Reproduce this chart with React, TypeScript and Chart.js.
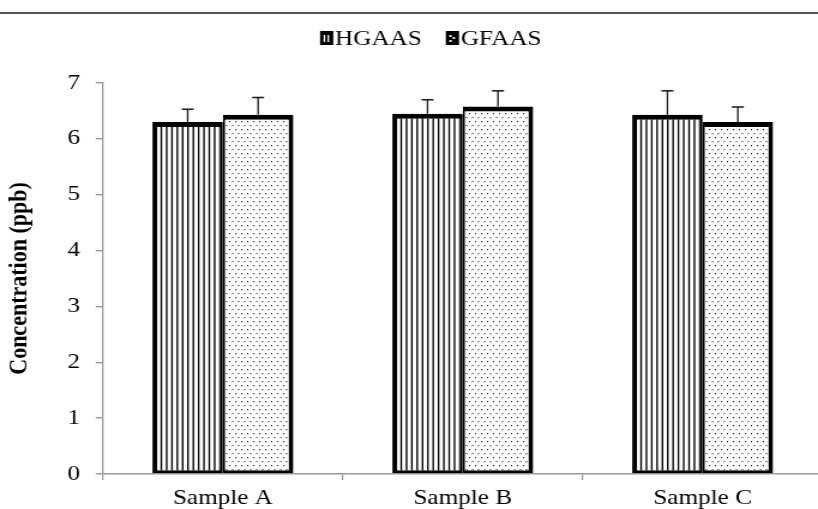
import React, { useEffect, useRef } from "react";
import { Chart, registerables } from "chart.js";

Chart.register(...registerables);

const categories = ["Sample A", "Sample B", "Sample C"];
const seriesNames = ["HGAAS", "GFAAS"];
const hgaasValues = [6.3, 6.45, 6.43];
const hgaasErrors = [0.23, 0.25, 0.43];
const gfaasValues = [6.43, 6.58, 6.3];
const gfaasErrors = [0.31, 0.28, 0.27];
const yTickMin = 0;
const yTickMax = 7;
const yTickStep = 1;
const yTitle = "Concentration (ppb)";

const FONT = "'Liberation Serif', 'Times New Roman', serif";
// the reference figure is horizontally stretched; draw narrower and stretch with CSS
const SX = 1.2;
const CANVAS_W = 687;
const CANVAS_H = 509;

function makeLinePattern(ctx: CanvasRenderingContext2D) {
  const c = document.createElement("canvas");
  c.width = 40;
  c.height = 4;
  const g = c.getContext("2d")!;
  g.fillStyle = "#fff";
  g.fillRect(0, 0, 40, 4);
  g.fillStyle = "#000";
  for (let k = 0; k < 9; k++) g.fillRect(0.5 + (k * 40) / 9, 0, 1.35, 4);
  return ctx.createPattern(c, "repeat")!;
}

function makeDotPattern(ctx: CanvasRenderingContext2D) {
  const c = document.createElement("canvas");
  c.width = 5;
  c.height = 8;
  const g = c.getContext("2d")!;
  g.fillStyle = "#fff";
  g.fillRect(0, 0, 5, 8);
  g.fillStyle = "#222";
  g.fillRect(1, 1, 1, 1.2);
  g.fillRect(3.5, 5, 1, 1.2);
  return ctx.createPattern(c, "repeat")!;
}

const errorBarPlugin = {
  id: "errorBars",
  afterDatasetsDraw(chart: any) {
    const { ctx } = chart;
    const yScale = chart.scales.y;
    const errs = [hgaasErrors, gfaasErrors];
    chart.data.datasets.forEach((ds: any, i: number) => {
      const meta = chart.getDatasetMeta(i);
      meta.data.forEach((bar: any, j: number) => {
        const top = yScale.getPixelForValue(ds.data[j] + errs[i][j]);
        ctx.save();
        ctx.strokeStyle = "#222";
        ctx.beginPath();
        ctx.lineWidth = 1.35;
        ctx.moveTo(bar.x, bar.y);
        ctx.lineTo(bar.x, top);
        ctx.stroke();
        ctx.beginPath();
        ctx.lineWidth = 1.6;
        ctx.moveTo(bar.x - 5, top);
        ctx.lineTo(bar.x + 5, top);
        ctx.stroke();
        ctx.restore();
      });
    });
  },
};

const decorPlugin = {
  id: "decor",
  afterDraw(chart: any) {
    const { ctx, width } = chart;
    ctx.save();
    ctx.strokeStyle = "#555";
    ctx.lineWidth = 2;
    ctx.beginPath();
    ctx.moveTo(0, 13);
    ctx.lineTo(width, 13);
    ctx.stroke();
    ctx.font = `21px ${FONT}`;
    ctx.textBaseline = "middle";
    ctx.fillStyle = "#000";
    const box = 11;
    const gapBox = 1.5;
    const gapItem = 20;
    const widths = seriesNames.map((n) => box + gapBox + ctx.measureText(n).width);
    const total = widths.reduce((a, b) => a + b, 0) + gapItem * (seriesNames.length - 1);
    let x = 431 / SX - total / 2;
    const cy = 38;
    seriesNames.forEach((name, i) => {
      ctx.fillStyle = "#000";
      ctx.fillRect(x, cy - 7, box, 14);
      ctx.fillStyle = "#fff";
      if (i === 0) {
        ctx.fillRect(x + 3, cy - 3, 1.3, 7);
        ctx.fillRect(x + 6.2, cy - 3, 1.3, 7);
      } else {
        ctx.fillRect(x + 3, cy - 3, 1.8, 2);
        ctx.fillRect(x + 5.8, cy - 1, 1.8, 2);
        ctx.fillRect(x + 3, cy + 2, 1.8, 2);
      }
      ctx.fillStyle = "#000";
      ctx.fillText(name, x + box + gapBox, cy + 1);
      x += widths[i] + gapItem;
    });
    ctx.restore();
  },
};

export default function App() {
  const ref = useRef<HTMLCanvasElement>(null);
  useEffect(() => {
    const canvas = ref.current!;
    const ctx = canvas.getContext("2d")!;
    const linePat = makeLinePattern(ctx);
    const dotPat = makeDotPattern(ctx);
    const chart = new Chart(canvas, {
      type: "bar",
      data: {
        labels: categories,
        datasets: [
          {
            label: seriesNames[0],
            data: hgaasValues,
            backgroundColor: linePat as any,
            borderColor: "#000",
            borderWidth: { top: 5, left: 4.2, right: 2.3, bottom: 3 } as any,
            borderSkipped: false,
            categoryPercentage: 0.5875,
            barPercentage: 1,
          },
          {
            label: seriesNames[1],
            data: gfaasValues,
            backgroundColor: dotPat as any,
            borderColor: "#000",
            borderWidth: { top: 5, left: 1.9, right: 4, bottom: 3 } as any,
            borderSkipped: false,
            categoryPercentage: 0.5875,
            barPercentage: 1,
          },
        ],
      },
      options: {
        responsive: false,
        animation: false,
        devicePixelRatio: 1,
        layout: { padding: { top: 83, right: 1.2, left: 0, bottom: 0 } },
        plugins: { legend: { display: false }, tooltip: { enabled: false } },
        scales: {
          x: {
            grid: { display: true, drawOnChartArea: false, drawTicks: true, tickLength: 6, color: "#999", offset: true, lineWidth: 1.2 },
            border: { color: "#999", width: 1.4 },
            ticks: { color: "#000", font: { family: FONT, size: 21 }, padding: 6 },
            afterFit: (s: any) => {
              s.height = 35;
            },
          },
          y: {
            min: yTickMin,
            max: yTickMax,
            ticks: { stepSize: yTickStep, color: "#000", font: { family: FONT, size: 21 }, padding: 13 },
            grid: { drawOnChartArea: false, tickLength: 6, color: "#999", lineWidth: 1.4 },
            border: { color: "#999", width: 1.3 },
            title: {
              display: true,
              text: yTitle,
              color: "#000",
              font: { family: FONT, size: 22, weight: "bold" },
              padding: { top: 3, bottom: 0 },
            },
            afterFit: (s: any) => {
              s.width = 103 / SX;
            },
          },
        },
      },
      plugins: [errorBarPlugin, decorPlugin],
    });
    return () => chart.destroy();
  }, []);
  return (
    <div style={{ position: "fixed", left: 0, top: 0, width: 818, height: 509, overflow: "hidden", background: "#fff" }}>
      <canvas
        ref={ref}
        width={CANVAS_W}
        height={CANVAS_H}
        style={{ display: "block", width: CANVAS_W * SX, height: CANVAS_H }}
      />
    </div>
  );
}
